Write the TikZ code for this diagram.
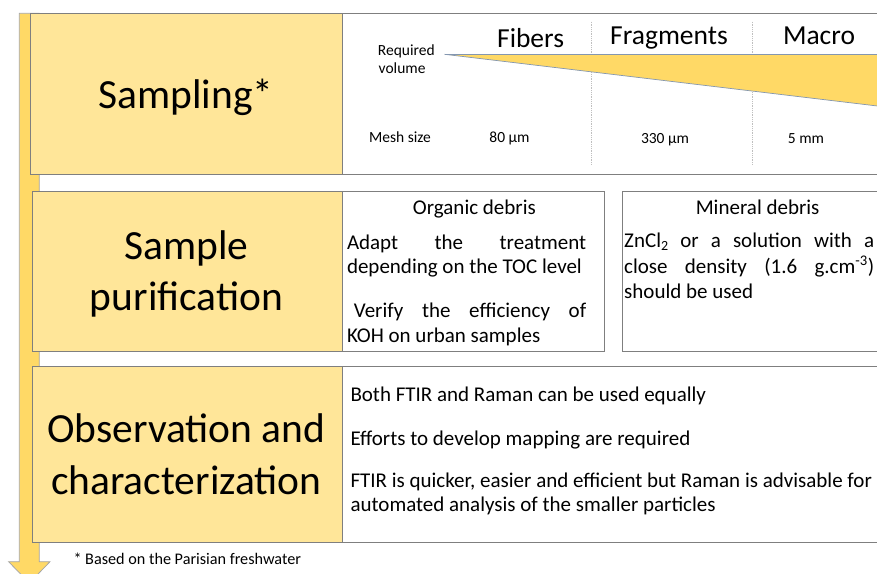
\documentclass[tikz,border=0pt]{standalone}
\usepackage{fontspec}
\setmainfont{Carlito}
\definecolor{boxfill}{HTML}{FFE699}
\definecolor{bandfill}{HTML}{FFD966}
\definecolor{edgec}{HTML}{7F7F7F}
\definecolor{arrowedge}{HTML}{A6A6A6}
\definecolor{wedgeedge}{HTML}{8497B0}
\definecolor{dotc}{HTML}{BFBFBF}
\begin{document}
\begin{tikzpicture}[x=1pt,y=-1pt,
  stagebox/.style={draw=edgec, line width=0.8pt, fill=boxfill, anchor=north west, inner sep=0pt},
  panel/.style={draw=edgec, line width=0.8pt, fill=white, anchor=north west, inner sep=0pt},
  title/.style={font=\fontsize{41.5}{48}\selectfont, inner sep=0pt, anchor=base},
  head/.style={font=\fontsize{27.5}{32}\selectfont, inner sep=0pt, anchor=base},
  small/.style={font=\fontsize{15.5}{18}\selectfont, inner sep=0pt},
  body/.style={font=\fontsize{21}{24}\selectfont, inner sep=0pt, anchor=base west},
  bodyc/.style={font=\fontsize{21}{24}\selectfont, inner sep=0pt, anchor=base},
  note/.style={font=\fontsize{16.2}{19}\selectfont, inner sep=0pt, anchor=base west}]
\useasboundingbox (0,0) rectangle (877,573);
\clip (0,0) rectangle (877,573);
% process arrow
\draw[draw=arrowedge, fill=bandfill, line width=0.75pt]
  (19.3,13.3) -- (39.3,13.3) -- (39.3,561.7) -- (50,561.7) -- (29.3,583)
  -- (8.6,561.7) -- (19.3,561.7) -- cycle;
% right panels
\node[panel, minimum width=553pt, minimum height=160.7pt] (p1) at (342,13.3) {};
\node[panel, minimum width=262.3pt, minimum height=159.8pt] (org) at (342,190.7) {};
\node[panel, minimum width=273.3pt, minimum height=159.8pt] (min) at (621.7,190.7) {};
\node[panel, minimum width=553pt, minimum height=175.8pt] (p3) at (342,365.7) {};
% stage boxes
\node[stagebox, minimum width=312pt, minimum height=160.7pt] (s1) at (30,13.3) {};
\node[stagebox, minimum width=310.3pt, minimum height=159.8pt] (s2) at (31.7,190.7) {};
\node[stagebox, minimum width=310pt, minimum height=175.8pt] (s3) at (32,365.7) {};
% titles
\node[title] (t1) at (186,108.3) {Sampling*};
\node[title] (t2a) at (186.5,259) {Sample};
\node[title] (t2b) at (186.5,310) {purification};
\node[title] (t3a) at (186.3,442) {Observation and};
\node[title] (t3b) at (186.3,494.7) {characterization};
% sampling panel
\draw[dotc, densely dotted, line width=0.8pt] (591,21.7) -- (591,165);
\draw[dotc, densely dotted, line width=0.8pt] (752.6,21.7) -- (752.6,165);
\fill[bandfill] (444.5,54.3) -- (895,54.3) -- (895,108.1) -- cycle;
\draw[wedgeedge, line width=0.7pt] (444.5,54.3) -- (895,54.3);
\draw[wedgeedge, line width=0.7pt] (444.5,54.3) -- (895,108.1);
\node[head] (h1) at (530.6,47.7) {Fibers};
\node[head] (h2) at (669,44.3) {Fragments};
\node[head] (h3) at (819,44.3) {Macro};
\node[small, anchor=base west] (rv1) at (377.7,55) {Required};
\node[small, anchor=base west] (rv2) at (378.5,73.3) {volume};
\node[small, anchor=base] (ms) at (400,142.7) {Mesh size};
\node[small, anchor=base] (m1) at (509.5,142.7) {80 µm};
\node[small, anchor=base] (m2) at (665,143.3) {330 µm};
\node[small, anchor=base] (m3) at (806,143.3) {5 mm};
% purification panels
\node[bodyc] (oh) at (474.4,214.3) {Organic debris};
\node[body] (o1) at (346.8,249.7) {\makebox[239.2pt][s]{Adapt the treatment}};
\node[body] (o2) at (346.8,273.5) {depending on the TOC level};
\node[body] (o3) at (353.7,317.5) {\makebox[232.3pt][s]{Verify the efficiency of}};
\node[body] (o4) at (346.8,342.5) {KOH on urban samples};
\node[bodyc] (mh) at (757.6,214.3) {Mineral debris};
\node[body] (n1) at (624,247.7) {\makebox[250pt][s]{ZnCl{\fontsize{14}{14}\selectfont\raisebox{-3pt}{2}} or a solution with a}};
\node[body] (n2) at (624,273) {\makebox[250pt][s]{close density (1.6 g.cm\textsuperscript{-3})}};
\node[body] (n3) at (624,298) {should be used};
% observation panel
\node[body] (c1) at (350.3,401) {Both FTIR and Raman can be used equally};
\node[body] (c2) at (350.3,445) {Efforts to develop mapping are required};
\node[body] (c3) at (350.3,487.7) {FTIR is quicker, easier and efficient but Raman is advisable for};
\node[body] (c4) at (350.3,511) {automated analysis of the smaller particles};
% footnote
\node[note] (fn) at (73.3,564.3) {* Based on the Parisian freshwater};
\end{tikzpicture}
\end{document}
